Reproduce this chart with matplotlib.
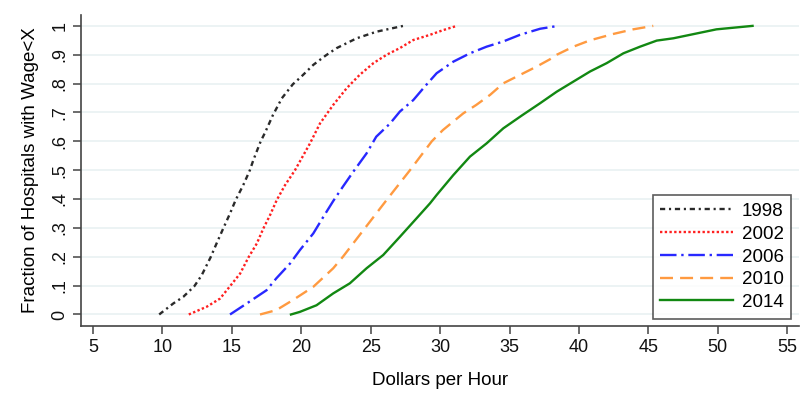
import matplotlib.pyplot as plt

plt.rcParams["font.family"] = ["Liberation Sans", "DejaVu Sans"]

# 累積分佈：各年份的時薪與累積比例
years = ["1998", "2002", "2006", "2010", "2014"]

frac_1998 = [0, 0.038, 0.061, 0.098, 0.136, 0.198, 0.246, 0.298, 0.35, 0.396, 0.448, 0.5,
             0.535, 0.599, 0.633, 0.69, 0.749, 0.798, 0.824, 0.865, 0.897, 0.923, 0.957, 0.98, 1.0]
wage_1998 = [9.77, 10.78, 11.5, 12.3, 12.83, 13.47, 13.9, 14.38, 14.87, 15.27, 15.82, 16.3,
             16.55, 17.07, 17.42, 17.95, 18.6, 19.4, 20.0, 20.87, 21.75, 22.55, 23.99, 25.43, 27.35]

frac_2002 = [0, 0.027, 0.055, 0.098, 0.142, 0.198, 0.246, 0.298, 0.344, 0.396, 0.448, 0.5,
             0.593, 0.662, 0.726, 0.784, 0.83, 0.871, 0.9, 0.923, 0.951, 0.969, 0.985, 1.0]
wage_2002 = [11.9, 13.2, 14.15, 14.87, 15.6, 16.2, 16.8, 17.27, 17.75, 18.23, 18.83, 19.55,
             20.63, 21.35, 22.3, 23.27, 24.2, 25.2, 26.15, 27.1, 28.07, 29.27, 30.2, 31.2]

frac_2006 = [0, 0.038, 0.084, 0.125, 0.177, 0.223, 0.281, 0.339, 0.393, 0.443, 0.495, 0.558,
             0.616, 0.662, 0.703, 0.743, 0.79, 0.836, 0.876, 0.905, 0.928, 0.946, 0.969, 0.99, 1.0]
wage_2006 = [14.87, 16.07, 17.5, 18.2, 19.2, 19.9, 20.87, 21.6, 22.3, 23.0, 23.75, 24.7,
             25.4, 26.4, 27.1, 28.07, 28.9, 29.75, 30.95, 32.15, 33.35, 34.55, 35.75, 37.2, 38.5]

frac_2010 = [0, 0.015, 0.05, 0.096, 0.16, 0.2, 0.3, 0.4, 0.5, 0.6, 0.639, 0.697, 0.726,
             0.761, 0.801, 0.83, 0.859, 0.884, 0.9, 0.928, 0.95, 0.972, 0.988, 1.0]
wage_2010 = [17.03, 18.2, 19.4, 20.87, 22.3, 23.0, 24.6, 26.2, 27.83, 29.4, 30.2, 31.67, 32.6,
             33.6, 34.55, 35.75, 36.95, 37.9, 38.4, 39.6, 40.8, 42.47, 43.9, 45.35]

frac_2014 = [0, 0.009, 0.032, 0.073, 0.108, 0.16, 0.206, 0.269, 0.333, 0.385, 0.414, 0.483,
             0.547, 0.593, 0.645, 0.69, 0.732, 0.772, 0.807, 0.842, 0.871, 0.905, 0.928,
             0.949, 0.957, 0.969, 0.988, 1.0]
wage_2014 = [19.26, 19.9, 21.1, 22.3, 23.5, 24.7, 25.9, 27.1, 28.3, 29.27, 29.75, 30.95,
             32.15, 33.35, 34.55, 35.9, 37.2, 38.4, 39.6, 40.8, 42.0, 43.2, 44.4,
             45.6, 46.8, 48.0, 49.9, 52.5]

x_ticks = [5, 10, 15, 20, 25, 30, 35, 40, 45, 50, 55]
y_ticks = [0.0, 0.1, 0.2, 0.3, 0.4, 0.5, 0.6, 0.7, 0.8, 0.9, 1.0]
y_labels = ["0", ".1", ".2", ".3", ".4", ".5", ".6", ".7", ".8", ".9", "1"]

series = [
    (wage_1998, frac_1998, "#2a2a2a", (0, (2.2, 1.6, 0.9, 1.6))),
    (wage_2002, frac_2002, "#FF2020", (0, (1.0, 1.0))),
    (wage_2006, frac_2006, "#2828FF", (0, (7, 2, 1, 2))),
    (wage_2010, frac_2010, "#FF9A40", (0, (5.5, 3))),
    (wage_2014, frac_2014, "#128812", "-"),
]

fig = plt.figure(figsize=(8.07, 4.03), dpi=100)
ax = fig.add_axes([0.1004, 0.191, 0.8896, 0.772])

for yv in y_ticks:
    ax.axhline(yv, color="#EAF2F3", lw=1.3, zorder=0)

for (w, f, c, ls), yr in zip(series, years):
    ax.plot(w, f, color=c, linestyle=ls, lw=1.7, label=yr)

ax.set_xlim(4.14, 55.84)
ax.set_ylim(-0.04, 1.038)
ax.set_xticks(x_ticks)
ax.set_yticks(y_ticks)
ax.set_yticklabels(y_labels, rotation=90, va="center")

for side in ["top", "right"]:
    ax.spines[side].set_visible(False)
for side in ["left", "bottom"]:
    ax.spines[side].set_color("#444444")
    ax.spines[side].set_linewidth(1.2)
ax.tick_params(axis="both", direction="out", length=6, width=1.1,
               color="#444444", labelsize=13, labelcolor="#111111", pad=3)

ax.set_xlabel("Dollars per Hour", fontsize=13.5, labelpad=12)
ax.set_ylabel("Fraction of Hospitals with Wage<X", fontsize=13.5, labelpad=9)

leg = ax.legend(loc="lower right", fontsize=13.5, frameon=True, fancybox=False,
                handlelength=3.9, handletextpad=0.45, labelspacing=0.3,
                borderpad=0.4, borderaxespad=0.4)
leg.get_frame().set_edgecolor("#333333")
leg.get_frame().set_linewidth(1.2)

fig.savefig("out.png", dpi=100)
